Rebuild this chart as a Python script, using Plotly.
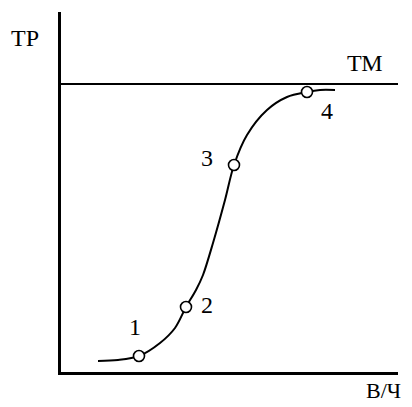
import plotly.graph_objects as go

# S-curve (arbitrary units, x = volume, y = result)
curve_x = [37, 57, 78, 99, 114, 125, 135, 142, 152, 164, 173, 186, 206, 226, 246, 259, 274]
curve_y = [11, 12, 16, 29, 44, 65, 82, 97, 129, 172, 207, 237, 262, 275, 280, 282, 282]

# numbered points on the curve
point_labels = ["1", "2", "3", "4"]
point_x = [78, 125, 173, 246]
point_y = [16, 65, 207, 280]
label_x = [74, 146, 146, 266]
label_y = [45, 67, 214, 261]

tm_level = 288
x_max, y_max = 337, 360

font = dict(family="Liberation Serif, Times New Roman, serif", size=24, color="black")

fig = go.Figure()

fig.add_trace(go.Scatter(
    x=curve_x, y=curve_y,
    mode="lines",
    line=dict(color="black", width=2, shape="spline", smoothing=0.9),
    hoverinfo="skip",
    showlegend=False,
))

fig.add_trace(go.Scatter(
    x=point_x, y=point_y,
    mode="markers",
    marker=dict(symbol="circle", size=11, color="white",
                line=dict(color="black", width=1.6)),
    showlegend=False,
    cliponaxis=False,
))

# horizontal TM level
fig.add_shape(type="line", xref="x", yref="y",
              x0=0, x1=x_max, y0=tm_level, y1=tm_level,
              line=dict(color="black", width=2), layer="below")

for t, lx, ly in zip(point_labels, label_x, label_y):
    fig.add_annotation(x=lx, y=ly, text=t, showarrow=False, font=font)

fig.add_annotation(x=304, y=309, text="ТМ", showarrow=False, font=font)

# axis titles sit outside the plot area -> paper coordinates
def paper(x, y):
    return x / x_max, y / y_max

px_, py_ = paper(-36, 334)
fig.add_annotation(x=px_, y=py_, xref="paper", yref="paper",
                   xanchor="center", yanchor="middle",
                   text="ТР", showarrow=False, font=font)
# visible page ends a few px short on the right/bottom, keep the label inside
px_, py_ = paper(342, -33)
fig.add_annotation(x=px_, y=py_, xref="paper", yref="paper",
                   xanchor="right", yanchor="bottom",
                   text="В/Ч", showarrow=False, font=dict(font, size=22))

fig.update_xaxes(range=[0, x_max], showgrid=False, zeroline=False,
                 showticklabels=False, ticks="", showline=True,
                 linecolor="black", linewidth=2.5)
fig.update_yaxes(range=[0, y_max], showgrid=False, zeroline=False,
                 showticklabels=False, ticks="", showline=True,
                 linecolor="black", linewidth=2.5)

# page body adds an 8px offset, so the margins are shifted to compensate
fig.update_layout(
    width=412, height=407,
    margin=dict(l=53, r=22, t=4, b=43),
    plot_bgcolor="white", paper_bgcolor="white",
)

fig.write_html("out.html")
